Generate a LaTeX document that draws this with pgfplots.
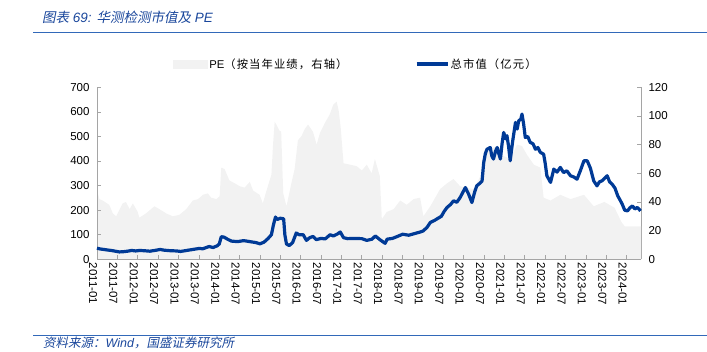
\documentclass[border=0pt]{standalone}
\usepackage{pgfplots}
\pgfplotsset{compat=1.18}
\usepackage{fontspec}
\setmainfont{Liberation Sans}
\newfontfamily\cjk[LetterSpace=10]{Noto Sans CJK SC}
\newfontfamily\cjkit[FakeSlant=0.2]{Noto Sans CJK SC}
\definecolor{capblue}{RGB}{0,58,150}
\definecolor{pegray}{RGB}{242,242,242}
\definecolor{axgray}{RGB}{165,165,165}
\definecolor{titleblue}{RGB}{25,70,155}
\definecolor{ruleblue}{RGB}{50,105,185}

\pgfplotstableread{
x y
2011.00 48
2011.06 42
2011.14 41
2011.30 38
2011.39 32
2011.47 30
2011.63 39
2011.71 40
2011.80 35
2011.88 39
2012.00 33
2012.04 29
2012.20 32
2012.41 37
2012.53 35
2012.70 32
2012.86 30
2013.02 31
2013.19 35
2013.35 41
2013.48 42
2013.60 45
2013.72 46
2013.80 43
2013.93 42
2014.01 44
2014.05 64
2014.13 63
2014.25 55
2014.38 53
2014.50 51
2014.62 50
2014.75 54
2014.83 48
2014.99 45
2015.07 39
2015.16 48
2015.28 59
2015.32 80
2015.36 96
2015.40 94
2015.47 90
2015.52 89
2015.57 46
2015.65 37
2015.77 53
2015.85 63
2015.93 83
2016.02 86
2016.10 91
2016.18 94
2016.30 89
2016.39 80
2016.47 88
2016.59 95
2016.71 101
2016.80 108
2016.88 110
2016.93 104
2016.98 92
2017.05 67
2017.21 66
2017.37 65
2017.50 62
2017.62 66
2017.74 60
2017.82 70
2017.94 58
2017.99 28
2018.11 33
2018.28 35
2018.44 41
2018.60 38
2018.77 42
2018.93 43
2019.01 30
2019.18 37
2019.42 49
2019.59 53
2019.75 56
2019.91 51
2020.04 50
2020.24 49
2020.41 58
2020.49 72
2020.65 77
2020.82 79
2020.98 72
2021.14 70
2021.31 80
2021.43 79
2021.55 73
2021.72 66
2021.88 64
2021.96 43
2022.13 41
2022.37 45
2022.62 42
2022.95 45
2023.19 37
2023.45 40
2023.70 36
2023.87 26
2023.95 23
2024.35 23
}\petable

\pgfplotstableread{
x y
2011.00 45
2011.08 42
2011.17 40
2011.25 38
2011.35 36
2011.45 33
2011.55 30
2011.65 31
2011.75 33
2011.85 36
2011.95 34
2012.05 36
2012.15 35
2012.30 33
2012.45 37
2012.55 40
2012.65 37
2012.80 35
2012.95 34
2013.05 32
2013.20 36
2013.35 40
2013.50 44
2013.60 43
2013.75 52
2013.85 48
2013.95 55
2014.00 62
2014.05 92
2014.12 90
2014.20 82
2014.30 74
2014.45 72
2014.60 76
2014.75 72
2014.90 68
2015.00 63
2015.10 70
2015.20 85
2015.28 100
2015.33 140
2015.38 172
2015.42 162
2015.50 167
2015.58 165
2015.61 100
2015.65 62
2015.72 56
2015.80 68
2015.89 107
2015.96 100
2016.06 100
2016.14 77
2016.22 88
2016.30 93
2016.38 80
2016.50 85
2016.60 83
2016.72 100
2016.80 95
2016.90 103
2016.97 111
2017.05 88
2017.15 84
2017.30 85
2017.50 84
2017.62 77
2017.75 82
2017.83 95
2017.95 79
2018.07 65
2018.12 82
2018.25 85
2018.40 95
2018.50 102
2018.65 98
2018.80 105
2018.93 111
2019.00 115
2019.10 130
2019.18 150
2019.28 158
2019.35 165
2019.45 175
2019.52 195
2019.59 211
2019.67 222
2019.75 238
2019.83 232
2019.91 251
2019.97 270
2020.04 292
2020.12 265
2020.20 231
2020.27 275
2020.32 299
2020.40 310
2020.45 319
2020.49 394
2020.53 430
2020.57 448
2020.65 455
2020.69 420
2020.73 408
2020.78 440
2020.82 455
2020.86 430
2020.90 408
2020.94 470
2020.98 516
2021.03 490
2021.06 503
2021.10 460
2021.14 401
2021.20 480
2021.27 557
2021.31 530
2021.35 564
2021.40 570
2021.43 591
2021.47 550
2021.51 496
2021.57 500
2021.63 476
2021.70 470
2021.76 448
2021.82 455
2021.88 435
2021.96 428
2022.00 390
2022.04 340
2022.13 313
2022.17 340
2022.21 367
2022.29 355
2022.37 374
2022.45 353
2022.53 360
2022.62 340
2022.70 335
2022.78 326
2022.86 360
2022.95 401
2023.03 401
2023.11 370
2023.19 319
2023.27 299
2023.33 315
2023.40 320
2023.46 330
2023.52 340
2023.58 315
2023.64 306
2023.71 290
2023.78 258
2023.84 240
2023.89 224
2023.95 200
2024.02 197
2024.08 210
2024.14 217
2024.20 205
2024.26 211
2024.34 197
}\captable

\begin{document}
\begin{tikzpicture}
\useasboundingbox (0pt,0pt) rectangle (707pt,351pt);
% title
\node[anchor=base west, inner sep=0, text=titleblue, font=\fontsize{13.5}{15}\selectfont] at (42pt,328pt)
  {{\cjkit 图表} {\itshape 69:} {\cjkit 华测检测市值及} {\itshape PE}};
\draw[ruleblue, line width=1.4pt] (33pt,318.7pt) -- (707pt,318.7pt);
% footer
\draw[ruleblue, line width=1.4pt] (33pt,15.3pt) -- (707pt,15.3pt);
\node[anchor=base west, inner sep=0, text=titleblue, font=\fontsize{12.5}{14}\selectfont] at (43pt,3.5pt)
  {{\cjkit 资料来源：}{\itshape Wind}{\cjkit ，国盛证券研究所}};

\pgfplotsset{
  common/.style={
    at={(97pt,91.7pt)}, anchor=south west, scale only axis,
    width=544pt, height=172pt,
    xmin=2011, xmax=2024.35, ymin=0,
    tick align=inside, major tick length=4pt,
    tick style={draw=axgray, line width=0.7pt},
    axis line style={draw=axgray, line width=0.8pt},
    /pgf/number format/assume math mode=true,
    ticklabel style={font=\fontsize{11.5}{13}\selectfont},
    clip=false,
  }
}
\begin{axis}[common,
  ymax=120,
  axis y line*=right, axis x line=none,
  ytick={0,20,...,120},
  yticklabel style={xshift=4pt},
]
\addplot[fill=pegray, draw=none] table {\petable} \closedcycle;
\end{axis}

\begin{axis}[common,
  ymax=700,
  axis y line*=left, axis x line*=bottom,
  ytick={0,100,...,700},
  yticklabel style={xshift=-4pt},
  xtick={2011,2011.5,...,2024},
  xticklabels={2011-01,2011-07,2012-01,2012-07,2013-01,2013-07,2014-01,2014-07,2015-01,2015-07,2016-01,2016-07,2017-01,2017-07,2018-01,2018-07,2019-01,2019-07,2020-01,2020-07,2021-01,2021-07,2022-01,2022-07,2023-01,2023-07,2024-01},
  xticklabel style={rotate=-90, anchor=west, yshift=-4pt},
  legend columns=2,
  legend style={at={(0.14,1.135)}, anchor=west, draw=none, fill=none,
    font=\fontsize{11.3}{13}\selectfont, inner sep=0pt,
    nodes={inner sep=1.5pt},
    /tikz/every even column/.append style={column sep=66pt}},
  legend cell align=left,
]
\addlegendimage{legend image code/.code={\fill[pegray] (0pt,-4pt) rectangle (34pt,4pt);}}
\addlegendentry{PE{\cjk（按当年业绩，右轴）}}
\addplot[capblue, line width=3.2pt, line join=round,
  legend image code/.code={\draw[capblue, line width=3.2pt] (0pt,0pt) -- (31pt,0pt);}]
  table {\captable};
\addlegendentry{{\cjk 总市值（亿元）}}
\end{axis}
\end{tikzpicture}
\end{document}
